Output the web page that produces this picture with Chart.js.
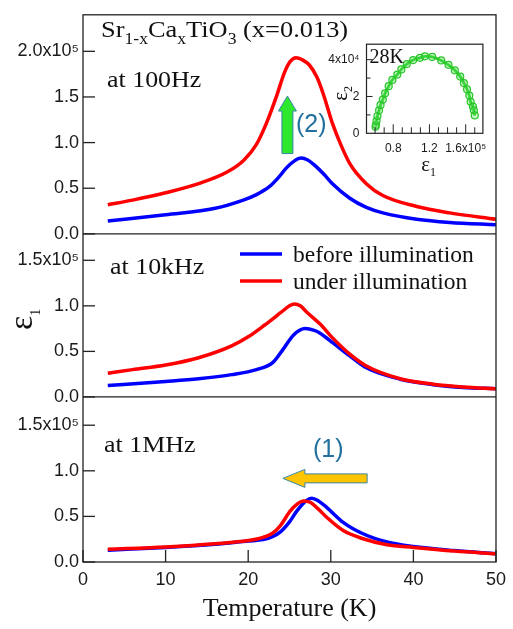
<!DOCTYPE html>
<html>
<head>
<meta charset="utf-8">
<script src="https://cdn.jsdelivr.net/npm/chart.js@4.4.1/dist/chart.umd.min.js"></script>
<style>
  body { margin: 0; background: #fff; }
  #wrap { position: relative; width: 513px; height: 629px; }
  #main { position: absolute; left: 0; top: 0; }
  #inset { position: absolute; left: 318px; top: 30px; }
</style>
</head>
<body>
<div id="wrap">
  <canvas id="main" width="513" height="629"></canvas>
  <canvas id="inset" width="177" height="160"></canvas>
</div>
<script>
// eps1 values are in units of 1e5, temperatures in K

// 100 Hz
const t100Under = [3, 6, 10, 14, 17.5, 19.5, 21, 22.2, 23.4, 24.4, 25.1, 25.8, 26.5, 27.4, 28.3, 29.1, 30.2, 31.2, 32.3, 34.3, 36.3, 40.4, 44.4, 50];
const e100Under = [0.32, 0.37, 0.45, 0.55, 0.68, 0.81, 0.98, 1.21, 1.50, 1.77, 1.89, 1.93, 1.91, 1.85, 1.72, 1.53, 1.21, 0.98, 0.77, 0.55, 0.42, 0.30, 0.23, 0.16];
const t100Before = [3, 10, 16, 19.4, 21, 22.6, 23.6, 24.6, 25.6, 26.4, 27.2, 28.2, 29.2, 30.2, 32.3, 34.3, 36.3, 40.4, 44.4, 50];
const e100Before = [0.14, 0.21, 0.28, 0.37, 0.43, 0.52, 0.61, 0.72, 0.80, 0.83, 0.81, 0.74, 0.65, 0.55, 0.39, 0.29, 0.23, 0.16, 0.125, 0.10];

// 10 kHz
const t10kUnder = [3, 6, 10, 14, 18, 20, 22, 24, 25, 25.6, 26.3, 27.1, 28.7, 30.3, 32.3, 34.3, 38.4, 42.4, 46, 50];
const e10kUnder = [0.26, 0.30, 0.35, 0.43, 0.56, 0.66, 0.79, 0.93, 1.00, 1.02, 1.00, 0.93, 0.80, 0.64, 0.47, 0.34, 0.20, 0.14, 0.11, 0.09];
const t10kBefore = [3, 10, 14, 18, 21, 23, 24.2, 25.5, 26.9, 28, 28.7, 30.3, 32.3, 34.3, 38.4, 42.4, 46, 50];
const e10kBefore = [0.125, 0.17, 0.20, 0.245, 0.30, 0.38, 0.52, 0.68, 0.75, 0.73, 0.70, 0.59, 0.45, 0.32, 0.195, 0.135, 0.105, 0.09];

// 1 MHz
const t1mUnder = [3, 10, 16, 20, 21.8, 23, 23.9, 25.1, 26, 26.7, 27.5, 28.5, 29.5, 31.5, 33.9, 36.8, 40, 45, 50];
const e1mUnder = [0.14, 0.165, 0.20, 0.235, 0.27, 0.32, 0.40, 0.56, 0.64, 0.67, 0.655, 0.58, 0.49, 0.345, 0.255, 0.19, 0.16, 0.12, 0.09];
const t1mBefore = [3, 10, 16, 20, 21.8, 23, 23.9, 25, 25.9, 27, 27.7, 28.5, 29.5, 31.5, 33.9, 36.8, 40, 45, 50];
const e1mBefore = [0.13, 0.16, 0.195, 0.23, 0.245, 0.28, 0.33, 0.44, 0.56, 0.67, 0.70, 0.67, 0.60, 0.435, 0.31, 0.22, 0.17, 0.125, 0.09];

// Cole-Cole plot at 28K: eps1 (1e5), eps2 (1e4)
const cc28Eps1 = [0.605, 0.61, 0.616, 0.626, 0.644, 0.66, 0.685, 0.71, 0.75, 0.79, 0.845, 0.89, 0.95, 1.02, 1.095, 1.15, 1.23, 1.33, 1.41, 1.48, 1.54, 1.58, 1.615, 1.64, 1.655, 1.68, 1.69, 1.70];
const cc28Eps2 = [0.36, 0.46, 0.68, 0.94, 1.25, 1.54, 1.83, 2.17, 2.56, 2.90, 3.19, 3.47, 3.76, 3.98, 4.10, 4.18, 4.15, 3.96, 3.72, 3.42, 3.08, 2.73, 2.39, 2.05, 1.71, 1.45, 1.25, 0.97];

const tempTicks = [0, 10, 20, 30, 40, 50];
const topTicks = [0, 0.5, 1.0, 1.5, 2.0];
const lowTicks = [0, 0.5, 1.0, 1.5];
const insetXTicks = [0.8, 1.2, 1.6];
const insetYTicks = [0, 2, 4];

const SERIF = '"Liberation Serif", "Times New Roman", serif';
const SANS = '"Liberation Sans", Arial, sans-serif';
const RED = '#ff0000';
const BLUE = '#0000ff';
const INK = '#111';

function curve(label, temps, vals, color, axis) {
  return {
    label: label,
    yAxisID: axis,
    data: temps.map((t, i) => ({ x: t, y: vals[i] })),
    borderColor: color,
    backgroundColor: color,
    borderWidth: 3.5,
    pointRadius: 0,
    cubicInterpolationMode: 'monotone',
    fill: false
  };
}

function yPanel(max, weight, ticks) {
  return {
    type: 'linear',
    position: 'left',
    stack: 'eps',
    stackWeight: weight,
    min: 0,
    max: max,
    grid: { display: false, drawTicks: false },
    border: { display: false },
    afterBuildTicks: s => { s.ticks = ticks.map(v => ({ value: v })); },
    afterFit: s => { s.width = 83; },
    ticks: {
      autoSkip: false,
      padding: 4,
      color: '#1a1a1a',
      font: { family: SANS, size: 18 },
      callback: v => v === ticks[ticks.length - 1] ? v.toFixed(1) + 'x10\u2075' : v.toFixed(1)
    }
  };
}

// draws text with subscript pieces on a baseline, slightly widened
function richText(ctx, x, y, parts, size, family, stretch) {
  ctx.save();
  ctx.translate(x, y);
  ctx.scale(stretch, 1);
  let cx = 0;
  for (const p of parts) {
    const s = p.sub ? Math.round(size * 0.68) : size;
    ctx.font = s + 'px ' + family;
    ctx.fillText(p.t, cx, p.sub ? size * 0.3 : 0);
    cx += ctx.measureText(p.t).width;
  }
  ctx.restore();
}

function seg(ctx, x1, y1, x2, y2) {
  ctx.beginPath();
  ctx.moveTo(x1, y1);
  ctx.lineTo(x2, y2);
  ctx.stroke();
}

const mainDecor = {
  id: 'mainDecor',
  afterDatasetsDraw(chart) {
    const { ctx, chartArea: a, scales } = chart;
    const x = scales.x;
    ctx.save();

    // frame, panel separators and inward ticks
    ctx.strokeStyle = '#222';
    ctx.lineWidth = 1.3;
    ctx.strokeRect(a.left, a.top, a.right - a.left, a.bottom - a.top);
    ['yTop', 'yMid'].forEach(id => {
      const y = scales[id].getPixelForValue(0);
      seg(ctx, a.left, y, a.right, y);
    });
    ['yTop', 'yMid', 'yBot'].forEach(id => {
      const s = scales[id];
      s.ticks.forEach(t => {
        const y = s.getPixelForValue(t.value);
        seg(ctx, a.left, y, a.left + 12, y);
      });
    });
    x.ticks.forEach(t => {
      const px = x.getPixelForValue(t.value);
      seg(ctx, px, a.bottom, px, a.bottom - 12);
    });

    // panel labels
    ctx.fillStyle = INK;
    ctx.textBaseline = 'alphabetic';
    ctx.textAlign = 'left';
    richText(ctx, 101, 37, [
      { t: 'Sr' }, { t: '1-x', sub: true }, { t: 'Ca' }, { t: 'x', sub: true },
      { t: 'TiO' }, { t: '3', sub: true }, { t: ' (x=0.013)' }
    ], 24, SERIF, 1.1);
    richText(ctx, 107, 87, [{ t: 'at 100Hz' }], 24, SERIF, 1.08);
    richText(ctx, 110, 274, [{ t: 'at 10kHz' }], 24, SERIF, 1.08);
    richText(ctx, 104, 452, [{ t: 'at 1MHz' }], 24, SERIF, 1.08);

    // legend
    const legendRows = [
      chart.data.datasets.find(d => d.yAxisID === 'yMid' && d.borderColor === BLUE),
      chart.data.datasets.find(d => d.yAxisID === 'yMid' && d.borderColor === RED)
    ];
    legendRows.forEach((d, i) => {
      const y = 254 + i * 27;
      ctx.strokeStyle = d.borderColor;
      ctx.lineWidth = 3.5;
      seg(ctx, 240, y, 282, y);
      ctx.fillStyle = INK;
      ctx.font = '23.5px ' + SERIF;
      ctx.fillText(d.label, 293, y + 8);
    });

    // y axis title, rotated eps_1
    ctx.save();
    ctx.translate(32, 330);
    ctx.rotate(-Math.PI / 2);
    ctx.fillStyle = INK;
    ctx.font = '34px ' + SERIF;
    ctx.fillText('\u03b5', 0, 0);
    const w = ctx.measureText('\u03b5').width;
    ctx.font = '14px ' + SERIF;
    ctx.fillText('1', w, 8);
    ctx.restore();

    // arrow (2): rise under illumination at 100 Hz
    const yTop = scales.yTop;
    const gx = x.getPixelForValue(24.75);
    const gy0 = yTop.getPixelForValue(0.88);
    const gy1 = yTop.getPixelForValue(1.51);
    ctx.beginPath();
    ctx.moveTo(gx - 5.5, gy0);
    ctx.lineTo(gx - 5.5, gy1 + 15);
    ctx.lineTo(gx - 9, gy1 + 15);
    ctx.lineTo(gx, gy1);
    ctx.lineTo(gx + 9, gy1 + 15);
    ctx.lineTo(gx + 5.5, gy1 + 15);
    ctx.lineTo(gx + 5.5, gy0);
    ctx.closePath();
    ctx.fillStyle = '#2ee82e';
    ctx.fill();
    ctx.strokeStyle = '#3a86a8';
    ctx.lineWidth = 1;
    ctx.stroke();

    // arrow (1): peak shift at 1 MHz
    const yBot = scales.yBot;
    const ay = yBot.getPixelForValue(0.917);
    const ax0 = x.getPixelForValue(24.2);
    const ax1 = x.getPixelForValue(34.4);
    ctx.beginPath();
    ctx.moveTo(ax1, ay - 4.5);
    ctx.lineTo(ax0 + 22, ay - 4.5);
    ctx.lineTo(ax0 + 22, ay - 9);
    ctx.lineTo(ax0, ay);
    ctx.lineTo(ax0 + 22, ay + 9);
    ctx.lineTo(ax0 + 22, ay + 4.5);
    ctx.lineTo(ax1, ay + 4.5);
    ctx.closePath();
    ctx.fillStyle = '#ffc400';
    ctx.fill();
    ctx.strokeStyle = '#3a86a8';
    ctx.stroke();

    ctx.fillStyle = '#22709f';
    ctx.font = '25px ' + SANS;
    ctx.fillText('(2)', 296, 132);
    ctx.fillText('(1)', 313, 457);

    ctx.restore();
  }
};

new Chart(document.getElementById('main'), {
  type: 'line',
  data: {
    datasets: [
      curve('under illumination', t100Under, e100Under, RED, 'yTop'),
      curve('under illumination', t10kUnder, e10kUnder, RED, 'yMid'),
      curve('under illumination', t1mUnder, e1mUnder, RED, 'yBot'),
      curve('before illumination', t100Before, e100Before, BLUE, 'yTop'),
      curve('before illumination', t10kBefore, e10kBefore, BLUE, 'yMid'),
      curve('before illumination', t1mBefore, e1mBefore, BLUE, 'yBot')
    ]
  },
  options: {
    responsive: false,
    animation: false,
    events: [],
    layout: { padding: { top: 10, right: 17, left: 0, bottom: 0 } },
    plugins: { legend: { display: false }, tooltip: { enabled: false } },
    scales: {
      x: {
        type: 'linear',
        min: 0,
        max: 50,
        grid: { display: false, drawTicks: false },
        border: { display: false },
        afterBuildTicks: s => { s.ticks = tempTicks.map(v => ({ value: v })); },
        afterFit: s => { s.height = 67; },
        ticks: { padding: 7, color: '#1a1a1a', font: { family: SANS, size: 18 } },
        title: {
          display: true,
          text: 'Temperature (K)',
          color: INK,
          font: { family: SERIF, size: 26 },
          padding: { top: 0, bottom: 4 }
        }
      },
      yBot: yPanel(1.81, 166.5, lowTicks),
      yMid: yPanel(1.79, 164.5, lowTicks),
      yTop: yPanel(2.40, 221, topTicks)
    }
  },
  plugins: [mainDecor]
});

// inset: Cole-Cole plot
const insetDecor = {
  id: 'insetDecor',
  beforeDraw(chart) {
    const { ctx, chartArea: a } = chart;
    ctx.save();
    ctx.fillStyle = '#fff';
    ctx.fillRect(a.left, a.top, a.right - a.left, a.bottom - a.top);
    ctx.restore();
  },
  afterDraw(chart) {
    const { ctx, chartArea: a, scales } = chart;
    ctx.save();
    ctx.strokeStyle = '#222';
    ctx.lineWidth = 1.2;
    ctx.strokeRect(a.left, a.top, a.right - a.left, a.bottom - a.top);
    ctx.lineWidth = 1;
    for (let v = 6; v <= 17; v++) {
      const px = scales.x.getPixelForValue(v / 10);
      const len = (v % 4 === 0) ? 9 : 6;
      seg(ctx, px, a.bottom, px, a.bottom - len);
    }
    for (let v = 1; v <= 4; v++) {
      const py = scales.y.getPixelForValue(v);
      const len = (v % 2 === 0) ? 6 : 4;
      seg(ctx, a.left, py, a.left + len, py);
    }

    ctx.fillStyle = INK;
    ctx.textAlign = 'left';
    ctx.textBaseline = 'alphabetic';
    ctx.font = '20px ' + SERIF;
    ctx.fillText('28K', a.left + 3, a.top + 19);

    // axis titles
    ctx.font = '21px ' + SERIF;
    const w = ctx.measureText('\u03b5').width;
    const cx = (a.left + a.right) / 2 + 4;
    ctx.fillText('\u03b5', cx - w / 2 - 3, a.bottom + 38);
    ctx.font = '12px ' + SERIF;
    ctx.fillText('1', cx + w / 2 - 3, a.bottom + 43);

    ctx.translate(a.left - 20, (a.top + a.bottom) / 2 + 12);
    ctx.rotate(-Math.PI / 2);
    ctx.font = '21px ' + SERIF;
    ctx.fillText('\u03b5', 0, 0);
    ctx.font = '12px ' + SERIF;
    ctx.fillText('2', w, 5);
    ctx.restore();
  }
};

new Chart(document.getElementById('inset'), {
  type: 'scatter',
  data: {
    datasets: [{
      label: '28K',
      data: cc28Eps1.map((v, i) => ({ x: v, y: cc28Eps2[i] })),
      showLine: true,
      tension: 0.3,
      borderColor: '#28cc28',
      borderWidth: 2.8,
      pointRadius: 3.5,
      pointBorderWidth: 1.2,
      pointBorderColor: '#28c428',
      pointBackgroundColor: 'rgba(90,225,90,0.35)'
    }]
  },
  options: {
    responsive: false,
    animation: false,
    events: [],
    layout: { padding: { top: 8, right: 5.5, left: 0, bottom: 0 } },
    plugins: { legend: { display: false }, tooltip: { enabled: false } },
    scales: {
      x: {
        type: 'linear',
        min: 0.505,
        max: 1.79,
        grid: { display: false, drawTicks: false },
        border: { display: false },
        afterBuildTicks: s => { s.ticks = insetXTicks.map(v => ({ value: v })); },
        afterFit: s => { s.height = 56.7; },
        ticks: {
          padding: 8,
          color: '#1a1a1a',
          font: { family: SANS, size: 12 },
          callback: v => v === 1.6 ? '1.6x10\u2075' : v.toFixed(1)
        }
      },
      y: {
        type: 'linear',
        min: 0,
        max: 4.84,
        grid: { display: false, drawTicks: false },
        border: { display: false },
        afterBuildTicks: s => { s.ticks = insetYTicks.map(v => ({ value: v })); },
        afterFit: s => { s.width = 48.5; },
        ticks: {
          padding: 7,
          color: '#1a1a1a',
          font: { family: SANS, size: 12 },
          callback: v => v === 4 ? '4x10\u2074' : String(v)
        }
      }
    }
  },
  plugins: [insetDecor]
});
</script>
</body>
</html>
